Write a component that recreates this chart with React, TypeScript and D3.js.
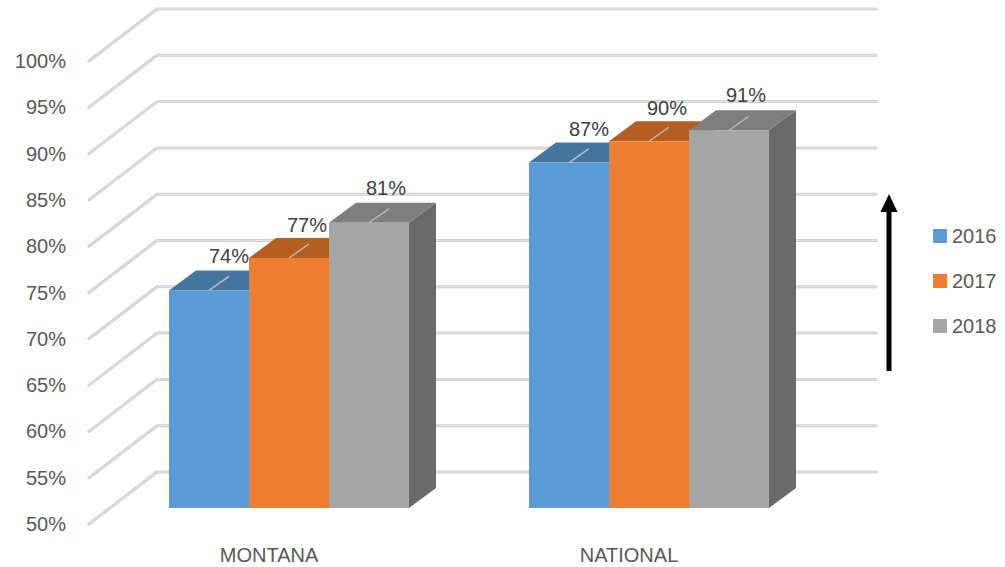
import React from "react";
import * as d3 from "d3";

const categories = ["MONTANA", "NATIONAL"];
const seriesNames = ["2016", "2017", "2018"];
const montanaValues = [73.5, 77.0, 80.8];
const nationalValues = [87.3, 89.6, 90.8];
const yTicks = [50, 55, 60, 65, 70, 75, 80, 85, 90, 95, 100];

const frontColors = ["#5B9BD5", "#ED7D31", "#A5A5A5"];
const topColors = ["#44759F", "#B45E22", "#7E7E7E"];
const sideColors = ["#3F6D96", "#A9561E", "#696969"];

const W = 1005;
const H = 567;
const FONT = "'Liberation Sans', Arial, sans-serif";
const TXT = "#595959";

export default function App() {
  const values = [montanaValues, nationalValues];

  // back wall scale
  const yBack = d3.scaleLinear().domain([50, 100]).range([472, 9]);
  const floorDX = 68;
  const floorDY = 52;
  const backX0 = 157;
  const backX1 = 876;

  // bar front plane
  const barPlaneDY = 36; // offset from back wall
  const yBar = (v: number) => yBack(v) + barPlaneDY;
  const depthDX = 27;
  const depthDY = 20;

  const x0 = d3
    .scaleBand<string>()
    .domain(categories)
    .range([109, 829])
    .paddingInner(1 / 3)
    .paddingOuter(1 / 6);
  const x1 = d3
    .scaleBand<string>()
    .domain(seriesNames)
    .range([0, x0.bandwidth()]);

  const labelOffsets = [
    [20, -34],
    [18, -33],
    [17, -35],
  ];

  return (
    <svg
      width={W}
      height={H}
      style={{ position: "absolute", left: 0, top: 0, background: "#fff" }}
    >
      {/* gridlines */}
      {yTicks.map((t) => {
        const by = yBack(t);
        const fy = by + floorDY;
        const path = `M${backX0 - floorDX},${fy} L${backX0},${by} L${backX1},${by}`;
        return (
          <g key={t}>
            <path
              d={path}
              fill="none"
              stroke="#cfcfcf"
              strokeWidth={3}
              strokeLinecap="round"
              strokeLinejoin="round"
            />
            <path
              d={path}
              fill="none"
              stroke="#e6e6e6"
              strokeWidth={1}
              strokeLinecap="round"
              strokeLinejoin="round"
            />
            <text
              x={66}
              y={fy}
              textAnchor="end"
              dominantBaseline="central"
              fontFamily={FONT}
              fontSize={20}
              fill={TXT}
            >
              {t}%
            </text>
          </g>
        );
      })}

      {/* bars */}
      {categories.map((cat, ci) =>
        seriesNames.map((s, si) => {
          const v = values[ci][si];
          const xl = (x0(cat) as number) + (x1(s) as number);
          const xr = xl + x1.bandwidth();
          const yt = yBar(v);
          const yb = yBar(50);
          const top = `M${xl},${yt} L${xr},${yt} L${xr + depthDX},${yt - depthDY} L${xl + depthDX},${yt - depthDY} Z`;
          const side = `M${xr},${yt} L${xr + depthDX},${yt - depthDY} L${xr + depthDX},${yb - depthDY} L${xr},${yb} Z`;
          return (
            <g key={cat + s}>
              <path d={side} fill={sideColors[si]} />
              <path d={top} fill={topColors[si]} />
              <rect
                x={xl}
                y={yt}
                width={xr - xl}
                height={yb - yt}
                fill={frontColors[si]}
              />
            </g>
          );
        })
      )}

      {/* data labels */}
      {categories.map((cat, ci) =>
        seriesNames.map((s, si) => {
          const v = values[ci][si];
          const cx = (x0(cat) as number) + (x1(s) as number) + x1.bandwidth() / 2;
          const yt = yBar(v);
          const [dx, dy] = labelOffsets[si];
          return (
            <g key={"l" + cat + s}>
              <line
                x1={cx}
                y1={yt}
                x2={cx + 20}
                y2={yt - 14}
                stroke="#bfbfbf"
                strokeWidth={1.3}
              />
              <text
                x={cx + dx}
                y={yt + dy}
                textAnchor="middle"
                dominantBaseline="central"
                fontFamily={FONT}
                fontSize={20}
                fill="#404040"
              >
                {Math.round(v)}%
              </text>
            </g>
          );
        })
      )}

      {/* category labels */}
      {categories.map((cat) => (
        <text
          key={cat}
          x={(x0(cat) as number) + x0.bandwidth() / 2 - 20}
          y={555}
          textAnchor="middle"
          dominantBaseline="central"
          fontFamily={FONT}
          fontSize={20}
          fill={TXT}
        >
          {cat}
        </text>
      ))}

      {/* arrow */}
      <line x1={889} y1={371} x2={889} y2={208} stroke="#000" strokeWidth={5} />
      <path d="M880.5,212 L889,194 L897.5,212 Z" fill="#000" />

      {/* legend */}
      {seriesNames.map((s, i) => {
        const cy = 236 + i * 45;
        return (
          <g key={"lg" + s}>
            <rect x={933} y={cy - 7} width={14} height={14} fill={frontColors[i]} />
            <text
              x={952}
              y={cy}
              dominantBaseline="central"
              fontFamily={FONT}
              fontSize={20}
              fill={TXT}
            >
              {s}
            </text>
          </g>
        );
      })}
    </svg>
  );
}
